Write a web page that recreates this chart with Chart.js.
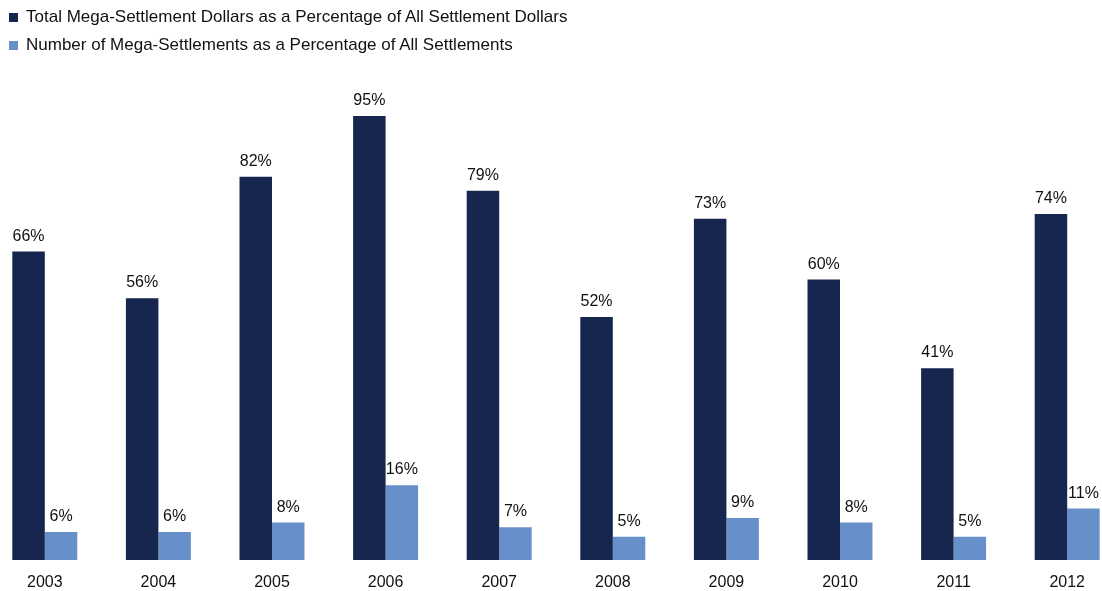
<!DOCTYPE html>
<html>
<head>
<meta charset="utf-8">
<script src="https://cdn.jsdelivr.net/npm/chart.js@4.4.1/dist/chart.umd.min.js"></script>
<style>
  html, body { margin: 0; padding: 0; background: #fff; overflow: hidden; }
  body { width: 1102px; height: 591px; position: relative; font-family: "Liberation Sans", Arial, sans-serif; }
  #wrap { position: absolute; left: -12px; top: 0; width: 1136px; height: 599px; }
  #legend { position: absolute; left: 9px; top: 5px; font-size: 17px; color: #111; }
  #legend .item { height: 28px; line-height: 24px; white-space: nowrap; }
  #legend .box { display: inline-block; width: 9px; height: 9px; margin-right: 8px; vertical-align: 0px; }
</style>
</head>
<body>
<div id="wrap"><canvas id="myChart"></canvas></div>
<div id="legend"></div>
<script>
const years = ['2003', '2004', '2005', '2006', '2007', '2008', '2009', '2010', '2011', '2012'];
const dollarShare = [66, 56, 82, 95, 79, 52, 73, 60, 41, 74];
const countShare = [6, 6, 8, 16, 7, 5, 9, 8, 5, 11];
const seriesNames = [
    'Total Mega-Settlement Dollars as a Percentage of All Settlement Dollars',
    'Number of Mega-Settlements as a Percentage of All Settlements'
];
const seriesColors = ['#16264f', '#6790ca'];

// percent labels above each bar
const barLabels = {
    id: 'barLabels',
    afterDatasetsDraw(chart) {
        const ctx = chart.ctx;
        ctx.save();
        ctx.font = '16px "Liberation Sans", Arial, sans-serif';
        ctx.fillStyle = '#111';
        ctx.textAlign = 'center';
        ctx.textBaseline = 'alphabetic';
        chart.data.datasets.forEach((ds, i) => {
            chart.getDatasetMeta(i).data.forEach((bar, j) => {
                ctx.fillText(ds.data[j] + '%', bar.x, bar.y - 11);
            });
        });
        ctx.restore();
    }
};

const ctx = document.getElementById('myChart').getContext('2d');
const chart = new Chart(ctx, {
    type: 'bar',
    data: {
        labels: years,
        datasets: seriesNames.map((name, i) => ({
            label: name,
            data: i === 0 ? dollarShare : countShare,
            backgroundColor: seriesColors[i],
            borderWidth: 0,
            categoryPercentage: 0.572,
            barPercentage: 1
        }))
    },
    options: {
        responsive: true,
        maintainAspectRatio: false,
        animation: false,
        layout: { padding: { top: 92.6, bottom: 1.8, left: 0, right: 0 } },
        plugins: {
            legend: { display: false },
            tooltip: { enabled: false }
        },
        scales: {
            x: {
                grid: { display: false },
                border: { display: false },
                ticks: {
                    color: '#111',
                    padding: 5,
                    font: { family: '"Liberation Sans", Arial, sans-serif', size: 16 }
                }
            },
            y: {
                display: false,
                min: 0,
                max: 100
            }
        }
    },
    plugins: [barLabels]
});

// legend, one series per row
const legend = document.getElementById('legend');
seriesNames.forEach((name, i) => {
    const row = document.createElement('div');
    row.className = 'item';
    row.innerHTML = '<span class="box" style="background:' + seriesColors[i] + '"></span>' + name;
    legend.appendChild(row);
});
</script>
</body>
</html>
